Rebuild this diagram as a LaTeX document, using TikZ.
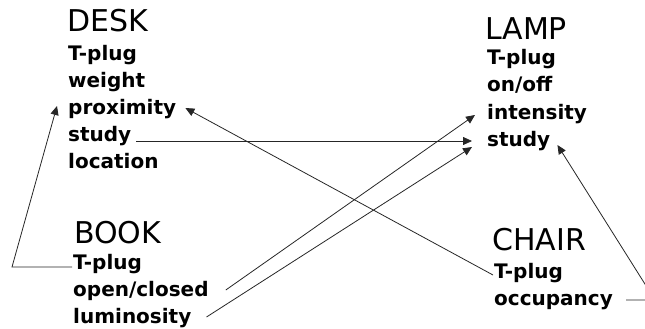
\documentclass[tikz,border=0pt]{standalone}
\usepackage{fontspec}
\setmainfont{DejaVu Sans}
\usetikzlibrary{arrows.meta}
\tikzset{
  ttl/.style={anchor=base west, inner sep=0pt, font=\fontsize{30}{36}\selectfont},
  attr/.style={anchor=base west, inner sep=0pt, font=\fontsize{20}{24}\selectfont\bfseries},
  arr/.style={draw=black!85, line width=0.8pt, -{Triangle[length=9pt,width=8pt]}},
  ln/.style={draw=black!85, line width=0.8pt}
}
\begin{document}
\begin{tikzpicture}[x=1pt,y=-1pt]
\useasboundingbox (0,0) rectangle (645,329);
% DESK
\node[ttl] (desk) at (67,32) {DESK};
\node[attr] (dT) at (68,60) {T-plug};
\node[attr] (dweight) at (68,87) {weight};
\node[attr] (dprox) at (68,114) {proximity};
\node[attr] (dstudy) at (68,141) {study};
\node[attr] (dloc) at (68,168) {location};
% LAMP
\node[ttl] (lamp) at (485,40) {LAMP};
\node[attr] (lT) at (487,65) {T-plug};
\node[attr] (lon) at (487,92) {on/off};
\node[attr] (lint) at (487,119) {intensity};
\node[attr] (lstudy) at (487,146) {study};
% BOOK
\node[ttl] (book) at (74,243) {BOOK};
\node[attr] (bT) at (73,269) {T-plug};
\node[attr] (bopen) at (73,296) {open/closed};
\node[attr] (blum) at (73,323) {luminosity};
% CHAIR
\node[ttl] (chair) at (492,250) {CHAIR};
\node[attr] (cT) at (494,278) {T-plug};
\node[attr] (cocc) at (494,305) {occupancy};
% free corners
\coordinate (bcorner) at (12,267);
\coordinate (ccorner) at (655,300);
% connectors
\draw[arr] ([shift={(-1,-2)}]bT.base west) -- (bcorner) -- ([shift={(-11,-8)}]dprox.base west);
\draw[arr] ([shift={(-1,-3)}]cT.base west) -- ([shift={(9,-6)}]dprox.base east);
\draw[arr] ([xshift=5pt]dstudy.base east) -- ([xshift=-15pt]dstudy.base east -| lstudy.base west);
\draw[arr] ([shift={(17,-6)}]bopen.base east) -- ([shift={(-12,-4)}]lint.base west);
\draw[arr] ([shift={(15,-6)}]blum.base east) -- ([shift={(-15,1)}]lstudy.base west);
\draw[arr] ([shift={(13,-5)}]cocc.base east) -- (ccorner) -- ([shift={(7,-1)}]lstudy.base east);
\end{tikzpicture}
\end{document}
